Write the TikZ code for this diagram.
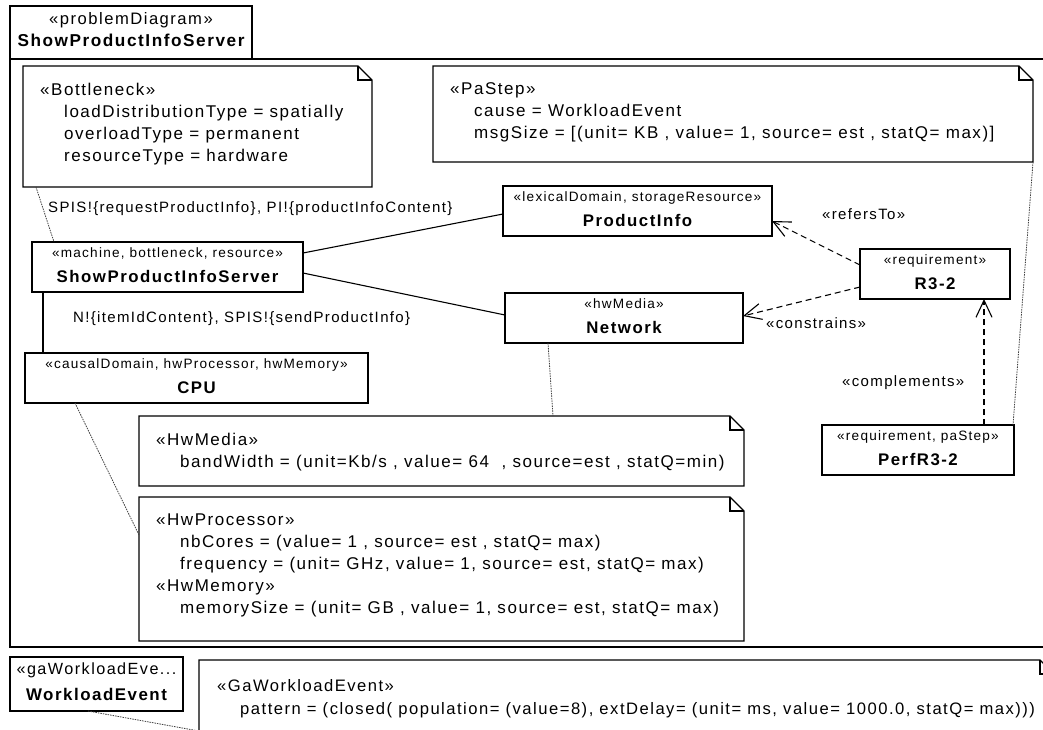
\documentclass[tikz,border=0pt]{standalone}
\usepackage{fontspec}
\setmainfont{Liberation Sans}[LetterSpace=9]
\usetikzlibrary{arrows.meta,calc}

% font sizes (1 unit = 1pt)
\newcommand{\umlNoteFont}{\fontsize{17}{22}\selectfont}
\newcommand{\umlLabelFont}{\fontsize{15}{18}\selectfont}
\newcommand{\umlStereoFont}{\fontsize{13.6}{16}\selectfont}
\newcommand{\umlNameFont}{\bfseries\fontsize{16.8}{20}\selectfont}
\newcommand{\attr}{\hspace*{24pt}}

% class box: name, x, y, width, height, stereotype, title
\newcommand{\umlclass}[7]{%
  \node[classbox, minimum width=#4, minimum height=#5, anchor=north west] (#1) at (#2,#3) {};
  \node[stereotext] (#1-st) at ($(#1.north)+(0,13)$) {«#6»};
  \node[nametext] (#1-nm) at ($(#1.north)+(0,38)$) {#7};
}

% note with folded corner: name, x, y, width, height, text
\newcommand{\umlnote}[6]{%
  \node[notebody, minimum width=#4, minimum height=#5, anchor=north west] (#1) at (#2,#3) {};
  \draw[noteline] (#1.north west) -- ($(#1.north east)+(-14,0)$) -- ($(#1.north east)+(0,14)$)
     -- (#1.south east) -- (#1.south west) -- cycle;
  \draw[noteline] ($(#1.north east)+(-14,0)$) -- ($(#1.north east)+(-14,14)$) -- ($(#1.north east)+(0,14)$);
  \node[notetext] (#1-txt) at ($(#1.north west)+(17,16.7)$) {#6};
}

\begin{document}
\begin{tikzpicture}[x=1pt,y=-1pt,
  classbox/.style={draw, line width=1.1pt, fill=white, inner sep=0pt, outer sep=0pt},
  notebody/.style={fill=white, inner sep=0pt, outer sep=0pt},
  noteline/.style={line width=1.1pt, line join=miter},
  stereotext/.style={anchor=mid, inner sep=0pt, font=\umlStereoFont},
  nametext/.style={anchor=mid, inner sep=0pt, font=\umlNameFont},
  notetext/.style={anchor=north west, inner sep=0pt, align=left, font=\umlNoteFont},
  linklabel/.style={anchor=mid west, inner sep=0pt, font=\umlLabelFont},
  frameline/.style={line width=1.1pt},
  assoc/.style={line width=1.1pt},
  noteattach/.style={line width=0.8pt, draw=black!75, dash pattern=on 1.5pt off 1pt},
  dep/.style={line width=1.1pt, dash pattern=on 6pt off 4pt,
    -{Straight Barb[length=17pt,width=16pt,line width=1.1pt]}}
]
\useasboundingbox (0,0) rectangle (1043,729);
\clip (0,0) rectangle (1043,729);
\fill[white] (0,0) rectangle (1043,729);

% diagram frame with its name tab
\node[classbox, minimum width=242, minimum height=53, anchor=north west] (hdr) at (10,6) {};
\node[anchor=mid, inner sep=0pt, font=\fontsize{16.6}{20}\selectfont] (hdr-st) at ($(hdr.north)+(0,16)$) {«problemDiagram»};
\node[anchor=mid, inner sep=0pt, font=\bfseries\fontsize{17.2}{20}\selectfont] (hdr-nm) at ($(hdr.north)+(0,38)$) {ShowProductInfoServer};
\coordinate (frameTR) at (1043,59);
\coordinate (frameBL) at (10,647);
\coordinate (frameBR) at (1043,647);
\draw[frameline] (frameTR) -- (hdr.south west) -- (frameBL) -- (frameBR);

% notes
\umlnote{bneck}{23}{66}{349}{121}{«Bottleneck»\\
  \attr loadDistributionType = spatially\\
  \attr overloadType = permanent\\
  \attr resourceType = hardware}
\umlnote{pastep}{433}{66}{600}{96}{«PaStep»\\
  \attr cause = WorkloadEvent\\
  \attr msgSize = [(unit= KB , value= 1, source= est , statQ= max)]}
\umlnote{media}{139}{416}{605}{70}{«HwMedia»\\
  \attr bandWidth = (unit=Kb/s , value= 64\ \ , source=est , statQ=min)}
\umlnote{proc}{139}{497}{605}{144}{«HwProcessor»\\
  \attr nbCores = (value= 1 , source= est , statQ= max)\\
  \attr frequency = (unit= GHz, value= 1, source= est, statQ= max)\\
  «HwMemory»\\
  \attr memorySize = (unit= GB , value= 1, source= est, statQ= max)}

% domains and requirements
\umlclass{spis}{32}{242}{271}{50}{machine, bottleneck, resource}{ShowProductInfoServer}
\umlclass{pi}{503}{186}{269}{50}{lexicalDomain, storageResource}{ProductInfo}
\umlclass{net}{505}{293}{238}{50}{hwMedia}{Network}
\umlclass{r32}{860}{249}{150}{50}{requirement}{R3-2}
\umlclass{cpu}{25}{353}{343}{50}{causalDomain, hwProcessor, hwMemory}{CPU}
\umlclass{perf}{822}{425}{192}{50}{requirement, paStep}{PerfR3-2}

% interfaces
\draw[assoc] ($(spis.north east)+(0,11)$) -- ($(pi.north west)+(0,28)$);
\draw[assoc] ($(spis.north east)+(0,31)$) -- ($(net.north west)+(0,22)$);
\draw[assoc] ($(spis.south west)+(11,0)$) -- ($(cpu.north west)+(18,0)$);
\node[linklabel] (lblPI) at (48,210) {SPIS!\{requestProductInfo\}, PI!\{productInfoContent\}};
\node[linklabel] (lblNet) at (73,320) {N!\{itemIdContent\}, SPIS!\{sendProductInfo\}};

% note attachments
\draw[noteattach] ($(bneck.south west)+(13,0)$) -- ($(spis.north west)+(22,0)$);
\draw[noteattach] ($(cpu.south west)+(50,0)$) -- ($(proc.north west)+(0,38)$);
\draw[noteattach] ($(net.south west)+(43,0)$) -- ($(media.north west)+(414,0)$);
\draw[noteattach] (pastep.south east) -- ($(perf.north east)+(-1,0)$);

% requirement dependencies
\draw[dep] ($(r32.north west)+(0,16)$) -- ($(pi.north east)+(0,35)$);
\draw[dep] ($(r32.north west)+(0,38)$) -- ($(net.north east)+(0,23)$);
\draw[dep] ($(perf.north west)+(162,0)$) -- ($(r32.south west)+(124,0)$);
\node[linklabel] (lblRef) at (822,217) {«refersTo»};
\node[linklabel] (lblCon) at (766,326) {«constrains»};
\node[linklabel] (lblComp) at (842,384) {«complements»};

% workload event below the frame
\node[classbox, minimum width=173, minimum height=54, anchor=north west] (wle) at (10,657) {};
\node[anchor=mid, inner sep=0pt, font=\fontsize{16.2}{18}\selectfont] (wle-st) at ($(wle.north)+(0,15)$) {«gaWorkloadEve...};
\node[anchor=mid, inner sep=0pt, font=\bfseries\fontsize{16.9}{20}\selectfont] (wle-nm) at ($(wle.north)+(0,41)$) {WorkloadEvent};
\node[notebody, minimum width=855, minimum height=150, anchor=north west] (ga) at (199,660) {};
\draw[noteline] (ga.north west) -- ($(ga.north east)+(-14,0)$) -- ($(ga.north east)+(0,14)$)
   -- (ga.south east) -- (ga.south west) -- cycle;
\draw[noteline] ($(ga.north east)+(-14,0)$) -- ($(ga.north east)+(-14,14)$) -- ($(ga.north east)+(0,14)$);
\node[notetext, font=\fontsize{16.6}{23}\selectfont] (ga-txt) at ($(ga.north west)+(18,18.9)$) {«GaWorkloadEvent»\\
  \hspace*{23pt}pattern = (closed( population= (value=8), extDelay= (unit= ms, value= 1000.0, statQ= max)))};
\draw[noteattach] ($(wle.south west)+(78,0)$) -- ($(ga.north west)+(0,71)$);
\end{tikzpicture}
\end{document}
